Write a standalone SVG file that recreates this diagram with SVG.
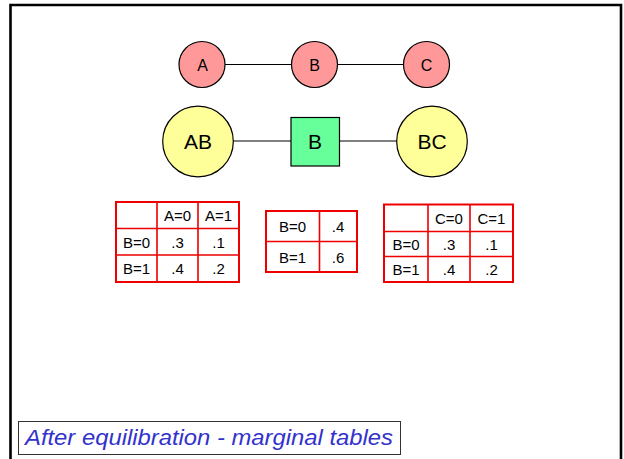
<svg xmlns="http://www.w3.org/2000/svg" width="624" height="459" viewBox="0 0 624 459">
  <style>
    .var { fill: #ff9999; stroke: #000; stroke-width: 1.2; }
    .clique { fill: #ffff99; stroke: #000; stroke-width: 1.2; }
    .sep { fill: #66ff99; stroke: #000; stroke-width: 1.2; }
    .edge { stroke: #000; stroke-width: 1.2; fill: none; }
    .lbl { font-family: "Liberation Sans", Arial, sans-serif; text-anchor: middle; fill: #000; }
    .sm { font-size: 16px; }
    .lg { font-size: 21px; }
    .tbl { fill: #fff; stroke: #ee0000; stroke-width: 2; }
    .grid { stroke: #ee0000; stroke-width: 1.6; fill: none; }
    .cell { font-family: "Liberation Sans", Arial, sans-serif; font-size: 15px; text-anchor: middle; fill: #000; }
    .cap { font-family: "Liberation Sans", Arial, sans-serif; font-size: 22px; font-style: italic; fill: #3333cc; }
  </style>

  <rect width="624" height="459" fill="#fff"/>
  <!-- slide frame -->
  <path d="M10.5 470 V5 H621 V470" fill="none" stroke="#000" stroke-width="2.6"/>

  <!-- connectors -->
  <g id="edges">
    <line class="edge" x1="225" y1="64.5" x2="292" y2="64.5"/>
    <line class="edge" x1="337" y1="64.5" x2="404" y2="64.5"/>
    <line class="edge" x1="233" y1="141" x2="291" y2="141"/>
    <line class="edge" x1="339" y1="141" x2="397" y2="141"/>
  </g>

  <!-- variable nodes -->
  <g id="node-A">
    <circle class="var" cx="202" cy="64.5" r="23"/>
    <text class="lbl sm" x="202.5" y="70.5">A</text>
  </g>
  <g id="node-B">
    <circle class="var" cx="314.5" cy="64.5" r="23"/>
    <text class="lbl sm" x="314.5" y="70.5">B</text>
  </g>
  <g id="node-C">
    <circle class="var" cx="426.5" cy="64.5" r="23"/>
    <text class="lbl sm" x="426.5" y="70.5">C</text>
  </g>

  <!-- junction tree -->
  <g id="node-AB">
    <circle class="clique" cx="198" cy="141.5" r="35.3"/>
    <text class="lbl lg" x="198" y="148.5">AB</text>
  </g>
  <g id="node-sepB">
    <rect class="sep" x="291" y="117.5" width="48.5" height="48.5"/>
    <text class="lbl lg" x="315" y="148.5">B</text>
  </g>
  <g id="node-BC">
    <circle class="clique" cx="432" cy="141.5" r="35.3"/>
    <text class="lbl lg" x="432" y="148.5">BC</text>
  </g>

  <!-- marginal table AB -->
  <g id="table-AB">
    <rect class="tbl" x="116" y="202" width="123" height="80"/>
    <path class="grid" d="M157 202 V282 M198 202 V282 M116 228.5 H239 M116 255 H239"/>
    <text class="cell" x="177.5" y="221">A=0</text>
    <text class="cell" x="218.5" y="221">A=1</text>
    <text class="cell" x="136.5" y="247.5">B=0</text>
    <text class="cell" x="177.5" y="247.5">.3</text>
    <text class="cell" x="218.5" y="247.5">.1</text>
    <text class="cell" x="136.5" y="274">B=1</text>
    <text class="cell" x="177.5" y="274">.4</text>
    <text class="cell" x="218.5" y="274">.2</text>
  </g>

  <!-- marginal table B -->
  <g id="table-B">
    <rect class="tbl" x="266" y="211" width="91" height="61"/>
    <path class="grid" d="M319.5 211 V272 M266 241.5 H357"/>
    <text class="cell" x="292.5" y="232">B=0</text>
    <text class="cell" x="338" y="232">.4</text>
    <text class="cell" x="292.5" y="262.5">B=1</text>
    <text class="cell" x="338" y="262.5">.6</text>
  </g>

  <!-- marginal table BC -->
  <g id="table-BC">
    <rect class="tbl" x="384" y="204.5" width="129" height="77.5"/>
    <path class="grid" d="M428 204.5 V282 M470 204.5 V282 M384 231.5 H513 M384 256.5 H513"/>
    <text class="cell" x="449" y="223.5">C=0</text>
    <text class="cell" x="491.5" y="223.5">C=1</text>
    <text class="cell" x="406" y="249.5">B=0</text>
    <text class="cell" x="449" y="249.5">.3</text>
    <text class="cell" x="491.5" y="249.5">.1</text>
    <text class="cell" x="406" y="275">B=1</text>
    <text class="cell" x="449" y="275">.4</text>
    <text class="cell" x="491.5" y="275">.2</text>
  </g>

  <!-- caption -->
  <g id="caption">
    <rect x="18.5" y="421.5" width="382" height="33" fill="#fff" stroke="#333" stroke-width="1"/>
    <text class="cap" x="25" y="445" textLength="368" lengthAdjust="spacingAndGlyphs">After equilibration - marginal tables</text>
  </g>
</svg>
